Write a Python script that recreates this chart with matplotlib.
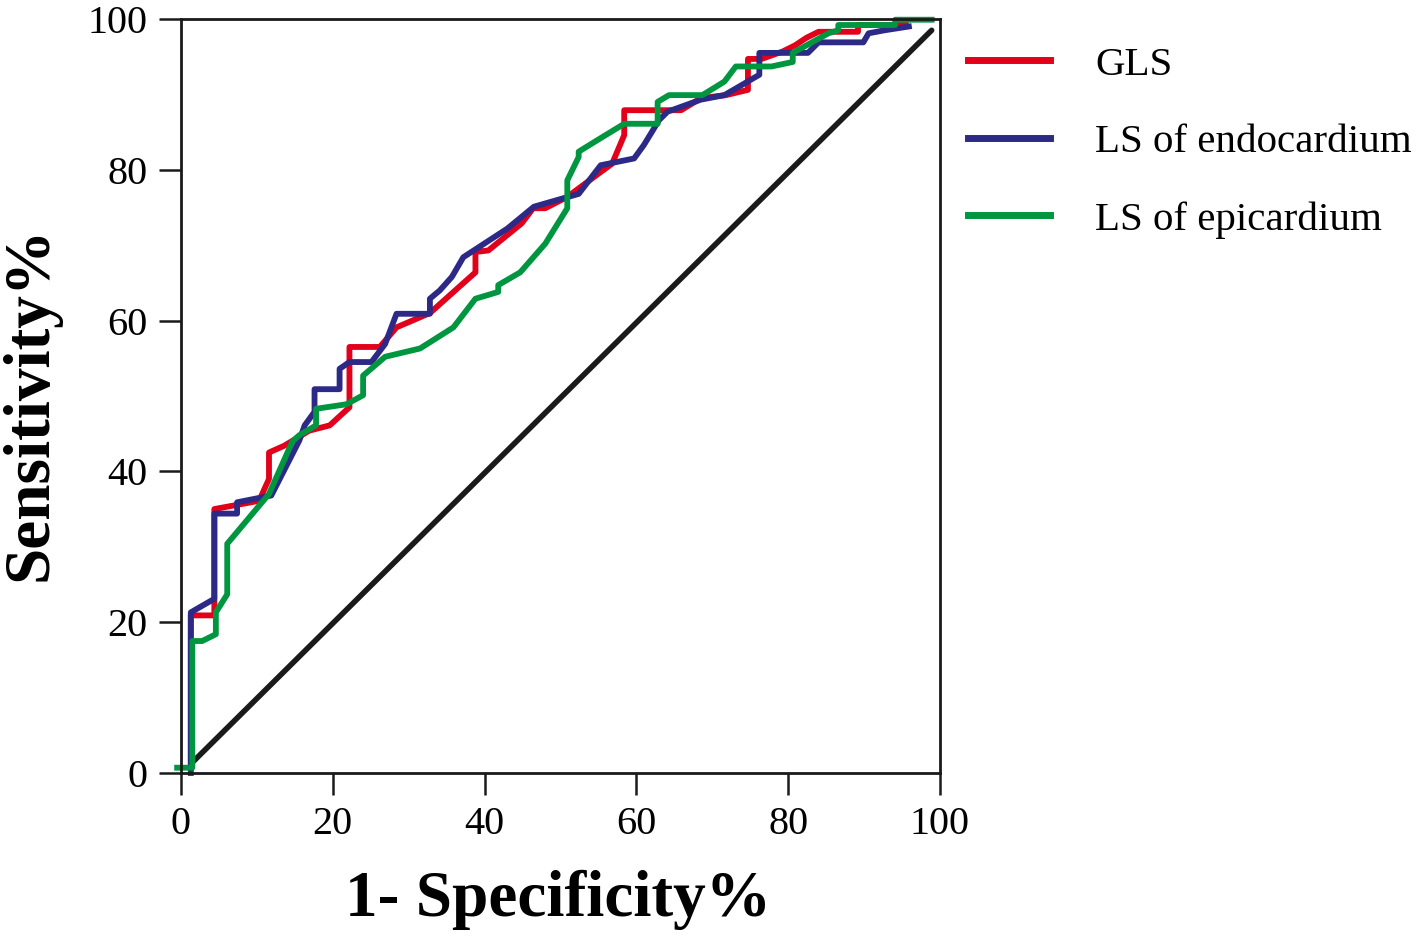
import numpy as np
import matplotlib
matplotlib.use('Agg')
import matplotlib.pyplot as plt

#curvas ROC (1-especificidad %, sensibilidad %)
gls_x = [1.3, 1.3, 4.4, 4.4, 10.3, 11.6, 11.6, 13.6, 16.9, 19.6, 22.2, 22.2, 26.2, 28.4, 32.8,
         38.8, 38.8, 40.5, 44.9, 46.4, 48.0, 50.9, 55.3, 56.8, 58.4, 58.4, 62.6, 65.9, 68.5,
         71.8, 74.7, 74.7, 76.5, 79.3, 80.9, 82.4, 84.0, 89.2, 89.2, 95.5]
gls_y = [0.7, 20.9, 20.9, 35.0, 36.1, 39.0, 42.5, 43.4, 45.4, 46.1, 48.5, 56.5, 56.5, 59.1, 61.0,
         66.4, 69.1, 69.3, 72.9, 74.9, 74.9, 76.4, 79.7, 80.8, 84.6, 87.9, 87.9, 87.9, 89.5,
         89.9, 90.6, 94.7, 94.7, 95.7, 96.5, 97.5, 98.3, 98.3, 99.2, 99.2]

endo_x = [1.3, 1.3, 4.4, 4.4, 7.4, 7.4, 11.9, 15.6, 16.3, 17.6, 17.6, 20.9, 20.9, 22.2, 25.1,
          26.9, 28.4, 32.8, 32.8, 34.1, 35.7, 37.2, 43.0, 46.5, 49.6, 52.4, 55.3, 59.7, 61.0,
          63.0, 64.1, 68.5, 71.6, 76.2, 76.2, 82.6, 84.0, 89.9, 90.6, 92.7, 95.9]
endo_y = [0.0, 21.3, 23.1, 34.4, 34.4, 35.9, 36.8, 44.1, 46.1, 47.9, 50.9, 50.9, 53.6, 54.5, 54.5,
          56.9, 60.9, 60.9, 62.9, 64.0, 65.8, 68.4, 72.2, 75.1, 76.0, 76.8, 80.6, 81.5, 83.3,
          86.6, 87.7, 89.3, 89.9, 92.6, 95.5, 95.5, 96.9, 96.9, 98.1, 98.5, 99.0]

epi_x = [-0.5, 1.5, 1.5, 2.8, 4.6, 4.6, 6.1, 6.1, 11.6, 14.7, 15.6, 17.8, 17.8, 21.8, 24.0, 24.0,
         26.9, 31.5, 35.9, 38.8, 41.8, 41.8, 44.7, 48.0, 50.9, 50.9, 52.4, 52.4, 55.3, 58.4,
         62.8, 62.8, 64.3, 68.7, 71.6, 73.1, 77.8, 80.6, 80.6, 85.3, 86.6, 86.6, 94.1, 94.1, 98.9]
epi_y = [0.7, 0.7, 17.5, 17.5, 18.4, 21.3, 23.7, 30.4, 37.0, 44.0, 44.8, 46.1, 48.3, 48.9, 50.1, 52.7,
         55.2, 56.3, 59.1, 62.9, 63.8, 64.7, 66.4, 70.2, 74.9, 78.6, 81.7, 82.4, 84.2, 86.1,
         86.1, 89.0, 89.9, 89.9, 91.7, 93.7, 93.7, 94.3, 95.5, 98.1, 98.5, 99.2, 99.2, 99.9, 99.9]

ref_x = [1.3, 98.9]
ref_y = [1.2, 98.5]

labels = ['GLS', 'LS of endocardium', 'LS of epicardium']
colors = ['#e2001a', '#2d2986', '#009640']
ticks = [0, 20, 40, 60, 80, 100]

plt.rcParams['font.family'] = ['Liberation Serif', 'DejaVu Serif']

fig = plt.figure(figsize=(14.18, 9.39), dpi=100)
ax = fig.add_axes([0.1276, 0.1768, 0.5353, 0.8030])

ax.plot(ref_x, ref_y, color='#1a1a1a', lw=4.0, solid_capstyle='round')
ax.plot(gls_x, gls_y, color=colors[0], lw=4.2, label=labels[0], clip_on=False)
ax.plot(endo_x, endo_y, color=colors[1], lw=4.2, label=labels[1], clip_on=False)
ax.plot(epi_x, epi_y, color=colors[2], lw=4.2, label=labels[2], clip_on=False)

ax.set_xlim(0, 100)
ax.set_ylim(0, 100)
ax.set_xticks(ticks)
ax.set_yticks(ticks)
ax.tick_params(direction='out', length=16, width=1.8, labelsize=29, pad=8, color='#1a1a1a')
for s in ax.spines.values():
    s.set_linewidth(2.0)
    s.set_color('#1a1a1a')

ax.set_xlabel('1- Specificity%', fontsize=47, fontweight='bold')
ax.set_ylabel('Sensitivity%', fontsize=47, fontweight='bold')
ax.xaxis.set_label_coords(0.497, -0.128)
ax.yaxis.set_label_coords(-0.159, 0.49)

leg = ax.legend(loc='upper left', bbox_to_anchor=(0.6827, 0.951), bbox_transform=fig.transFigure,
                frameon=False, fontsize=29.5, handlelength=2.0, handletextpad=1.1,
                labelspacing=0.97, borderpad=0, borderaxespad=0)
for h in leg.legend_handles:
    h.set_linewidth(5.0)

fig.savefig('out.png', dpi=100)
